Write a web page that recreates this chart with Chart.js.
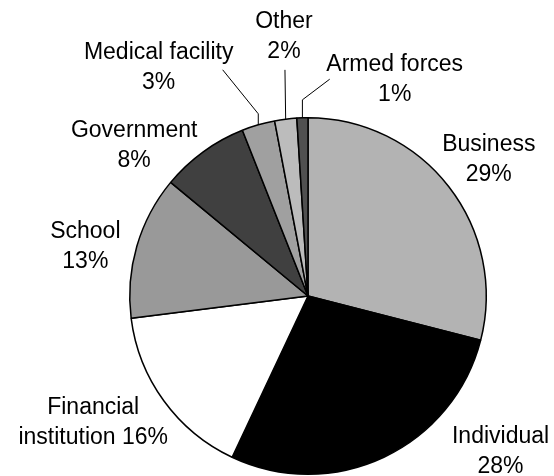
<!DOCTYPE html>
<html>
<head>
<meta charset="utf-8">
<script src="https://cdn.jsdelivr.net/npm/chart.js@4"></script>
<style>
  body { margin: 0; background: #fff; }
  #wrap { width: 554px; height: 476px; }
</style>
</head>
<body>
<div id="wrap"><canvas id="myChart"></canvas></div>
<script>
// categories and their share of the total (percent)
const categories = ['Business', 'Individual', 'Financial institution', 'School', 'Government', 'Medical facility', 'Other', 'Armed forces'];
const shares = [29, 28, 16, 13, 8, 3, 2, 1];
const sliceColors = ['#b3b3b3', '#000000', '#ffffff', '#999999', '#404040', '#a0a0a0', '#bcbcbc', '#505050'];

// where each label sits: angle clockwise from 12 o'clock (deg), distance as multiple of the radius
const labelSpots = [[53, 1.27], [129, 1.39], [239.4, 1.40], [282.6, 1.28], [310.9, 1.29], [326.8, 1.53], [354.7, 1.46], [21.8, 1.31]];
// labels whose value goes on the same line as the last word
const wrapName = [2];
// leader lines for the thin slices: elbow height above the rim, end point relative to the label centre
const leaders = {
    5: { elbow: 11, end: [64, 2] },
    6: { elbow: 0, end: [1, 33] },
    7: { elbow: 18, end: [-65, 0] }
};

function labelLines(i) {
    const pct = shares[i] + '%';
    if (wrapName.includes(i)) {
        const words = categories[i].split(' ');
        return [words[0], words.slice(1).join(' ') + ' ' + pct];
    }
    return [categories[i], pct];
}

const outsideLabels = {
    id: 'outsideLabels',
    afterDatasetsDraw(chart) {
        const ctx = chart.ctx;
        const arcs = chart.getDatasetMeta(0).data;
        const lineH = 30;
        ctx.save();
        ctx.font = '23px "Liberation Sans", Arial, sans-serif';
        ctx.fillStyle = '#000';
        ctx.textAlign = 'center';
        ctx.textBaseline = 'middle';
        ctx.strokeStyle = '#000';
        ctx.lineWidth = 1;
        arcs.forEach(function(arc, i) {
            const cx = arc.x, cy = arc.y, r = arc.outerRadius;
            const a = labelSpots[i][0] * Math.PI / 180;
            const lx = cx + labelSpots[i][1] * r * Math.sin(a);
            const ly = cy - labelSpots[i][1] * r * Math.cos(a);
            const lines = labelLines(i);
            lines.forEach(function(t, k) {
                ctx.fillText(t, lx, ly + (k - (lines.length - 1) / 2) * lineH);
            });

            const ld = leaders[i];
            if (ld) {
                const mid = (arc.startAngle + arc.endAngle) / 2;
                const sx = cx + r * Math.cos(mid);
                const sy = cy + r * Math.sin(mid);
                ctx.beginPath();
                ctx.moveTo(sx, sy);
                if (ld.elbow) ctx.lineTo(sx, sy - ld.elbow);
                ctx.lineTo(lx + ld.end[0], ly + ld.end[1]);
                ctx.stroke();
            }
        });
        ctx.restore();
    }
};

document.addEventListener('DOMContentLoaded', function() {
    const ctx = document.getElementById('myChart').getContext('2d');
    new Chart(ctx, {
        type: 'pie',
        data: {
            labels: categories,
            datasets: [{
                data: shares,
                backgroundColor: sliceColors,
                borderColor: '#000',
                borderWidth: 1.5
            }]
        },
        options: {
            responsive: true,
            maintainAspectRatio: false,
            animation: false,
            layout: { padding: { left: 129, right: 67, top: 117, bottom: 1 } },
            plugins: {
                legend: { display: false },
                tooltip: { enabled: false }
            }
        },
        plugins: [outsideLabels]
    });
});
</script>
</body>
</html>
